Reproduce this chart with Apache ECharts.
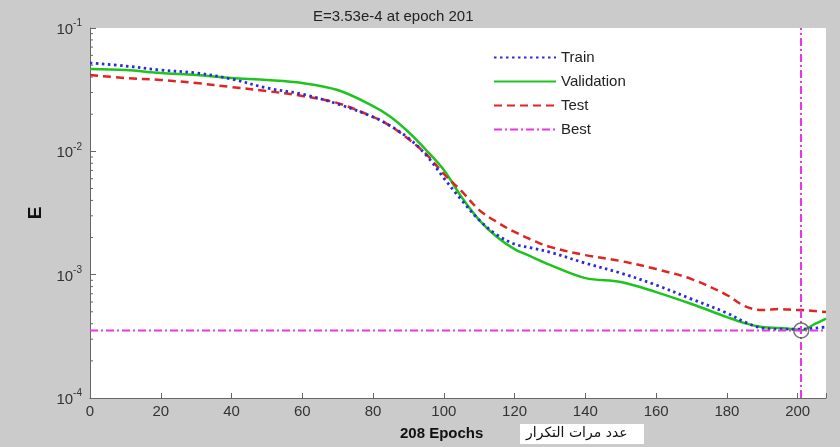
<!DOCTYPE html>
<html>
<head>
<meta charset="utf-8">
<script src="https://cdn.jsdelivr.net/npm/echarts@6/dist/echarts.min.js"></script>
<style>
  html, body { margin: 0; padding: 0; background: #cbcbcb; }
  #chart { width: 840px; height: 447px; }
</style>
</head>
<body>
<div id="chart"></div>
<script>
// Training record of the network: error E per epoch (log scale)
const epochs = [0, 10, 20, 30, 40, 50, 60, 70, 80, 85, 90, 95, 100, 105, 110, 115, 120, 125, 130, 140, 150, 160, 170, 180, 185, 190, 195, 200, 201, 205, 208];
const trainE = [0.0520, 0.0492, 0.0456, 0.0432, 0.0386, 0.0326, 0.0291, 0.0242, 0.0190, 0.0160, 0.0128, 0.00933, 0.00607, 0.00403, 0.00277, 0.00210, 0.00177, 0.00164, 0.00152, 0.00124, 0.00103, 0.000824, 0.000634, 0.000489, 0.000413, 0.000369, 0.000362, 0.000362, 0.000362, 0.000369, 0.000376];
const validationE = [0.0465, 0.0456, 0.0432, 0.0416, 0.0393, 0.0379, 0.0358, 0.0314, 0.0233, 0.0190, 0.01434, 0.01024, 0.00705, 0.00426, 0.00277, 0.00202, 0.00161, 0.00139, 0.00120, 0.000938, 0.000871, 0.000722, 0.000578, 0.000453, 0.000405, 0.000376, 0.000369, 0.000358, 0.000353, 0.000400, 0.000440];
const testE = [0.0416, 0.0393, 0.0379, 0.0358, 0.0332, 0.0308, 0.0281, 0.0246, 0.0190, 0.0160, 0.01258, 0.00951, 0.00655, 0.00476, 0.00334, 0.00267, 0.00222, 0.00191, 0.00168, 0.00144, 0.00129, 0.00111, 0.000921, 0.000684, 0.000556, 0.000516, 0.000526, 0.000516, 0.000516, 0.000507, 0.000498];

const bestEpoch = 201;
const bestE = 3.53e-4;
const totalEpochs = 208;
const yExponents = [-4, -3, -2, -1];
const xTicks = [0, 20, 40, 60, 80, 100, 120, 140, 160, 180, 200];

const FONT = '"Liberation Sans", Arial, sans-serif';
const pairs = arr => epochs.map((e, i) => [e, arr[i]]);
const BEST_DASH = [8, 3, 2, 3];

const chart = echarts.init(document.getElementById('chart'));

const option = {
  backgroundColor: '#cbcbcb',
  animation: false,
  title: {
    text: 'E=3.53e-4 at epoch ' + bestEpoch,
    left: 308,
    top: 4,
    textStyle: { fontFamily: FONT, fontSize: 15, fontWeight: 'normal', color: '#222' }
  },
  grid: {
    left: 90, right: 14, top: 28, bottom: 49,
    show: true, backgroundColor: '#ffffff', borderWidth: 0
  },
  legend: {
    orient: 'vertical',
    left: 488, top: 45,
    itemWidth: 62, itemHeight: 10, itemGap: 9,
    itemStyle: { opacity: 0 },
    textStyle: { fontFamily: FONT, fontSize: 15, color: '#222' },
    data: ['Train', 'Validation', 'Test', 'Best']
  },
  xAxis: {
    type: 'value',
    min: 0, max: totalEpochs, interval: 20,
    axisLine: { show: true, onZero: false, lineStyle: { color: '#666', width: 1 } },
    axisTick: { show: true, inside: true, length: 5, lineStyle: { color: '#666' } },
    axisLabel: {
      fontFamily: FONT, fontSize: 15, color: '#333', margin: 6,
      formatter: v => (xTicks.indexOf(v) >= 0 ? String(v) : '')
    },
    splitLine: { show: false }
  },
  yAxis: {
    type: 'log', logBase: 10,
    min: 1e-4, max: 1e-1,
    name: 'E',
    nameLocation: 'middle',
    nameGap: 45,
    nameRotate: 90,
    nameTextStyle: { fontFamily: FONT, fontSize: 19, fontWeight: 'bold', color: '#111' },
    axisLine: { show: true, lineStyle: { color: '#666', width: 1 } },
    axisTick: { show: true, inside: true, length: 6, lineStyle: { color: '#666' } },
    axisLabel: {
      margin: 8,
      formatter: v => {
        const p = Math.round(Math.log10(v));
        return yExponents.indexOf(p) >= 0 ? '{b|10}{s|' + p + '}' : '';
      },
      rich: {
        b: { fontFamily: FONT, fontSize: 15, color: '#333', verticalAlign: 'bottom' },
        s: { fontFamily: FONT, fontSize: 10, color: '#333', verticalAlign: 'top', padding: [0, 0, 9, 0] }
      }
    },
    splitLine: { show: false }
  },
  series: [
    {
      name: 'Train', type: 'line', data: pairs(trainE), smooth: 0.35,
      symbol: 'none', z: 4,
      itemStyle: { color: '#2b2bd6' },
      lineStyle: { color: '#2b2bd6', width: 2.8, type: [2.5, 3.5] }
    },
    {
      name: 'Validation', type: 'line', data: pairs(validationE), smooth: 0.35,
      symbol: 'none', z: 3,
      itemStyle: { color: '#1ec41e' },
      lineStyle: { color: '#1ec41e', width: 2.5, type: 'solid' }
    },
    {
      name: 'Test', type: 'line', data: pairs(testE), smooth: 0.35,
      symbol: 'none', z: 3,
      itemStyle: { color: '#e02424' },
      lineStyle: { color: '#e02424', width: 2.5, type: [8, 5] }
    },
    {
      // horizontal line at the best error, vertical line at the best epoch
      name: 'Best', type: 'line', data: [[0, bestE], [totalEpochs, bestE]],
      symbol: 'none', z: 5,
      itemStyle: { color: '#e636e6' },
      lineStyle: { color: '#e636e6', width: 2, type: BEST_DASH },
      markLine: {
        silent: true, symbol: 'none', animation: false,
        label: { show: false },
        lineStyle: { color: '#e636e6', width: 2, type: BEST_DASH },
        data: [{ xAxis: bestEpoch }]
      }
    },
    {
      name: 'BestPoint', type: 'scatter', data: [[bestEpoch, bestE]],
      symbol: 'circle', symbolSize: 15, z: 6, silent: true,
      itemStyle: { color: 'rgba(0,0,0,0)', borderColor: '#555', borderWidth: 1.5 }
    }
  ]
};

chart.setOption(option);

// Minor ticks on the log axis at 2..9 times each decade, plus the x-axis label
function decorations() {
  const els = [];
  const x0 = chart.convertToPixel({ xAxisIndex: 0 }, 0);
  for (let p = -4; p < -1 + 1e-9; p++) {
    for (let m = 2; m <= 9; m++) {
      const v = m * Math.pow(10, p);
      if (v > 0.1) continue;
      const y = chart.convertToPixel({ yAxisIndex: 0 }, v);
      els.push({
        type: 'line', silent: true, z: 10,
        shape: { x1: x0, y1: y, x2: x0 + 3, y2: y },
        style: { stroke: '#666', lineWidth: 1 }
      });
    }
  }
  els.push({
    type: 'text', left: 400, top: 426, z: 10,
    style: { text: totalEpochs + ' Epochs', font: 'bold 15px ' + FONT, fill: '#111' }
  });
  els.push({
    type: 'rect', left: 520, top: 424, z: 9,
    shape: { width: 124, height: 20 },
    style: { fill: '#ffffff' }
  });
  els.push({
    type: 'text', left: 526, top: 426, z: 10,
    style: { text: 'عدد مرات التكرار', font: '14px "DejaVu Sans", sans-serif', fill: '#111' }
  });
  chart.setOption({ graphic: els });
}
decorations();
</script>
</body>
</html>
